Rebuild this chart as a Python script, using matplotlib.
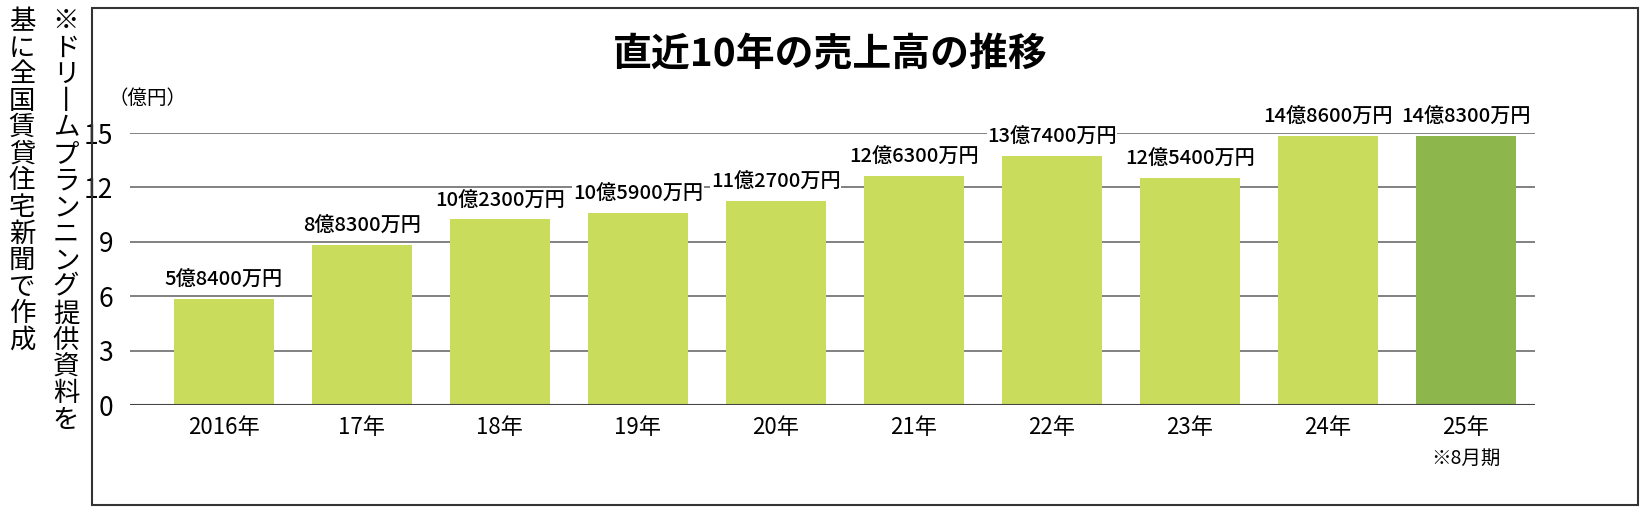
import matplotlib
matplotlib.use("Agg")
import matplotlib.pyplot as plt
from matplotlib.patches import Rectangle

plt.rcParams['font.family'] = ['Noto Sans CJK JP', 'DejaVu Sans']

categories = ["2016年", "17年", "18年", "19年", "20年", "21年", "22年", "23年", "24年", "25年"]
values = [5.84, 8.83, 10.23, 10.59, 11.27, 12.63, 13.74, 12.54, 14.86, 14.83]
labels = ["5億8400万円", "8億8300万円", "10億2300万円", "10億5900万円", "11億2700万円",
          "12億6300万円", "13億7400万円", "12億5400万円", "14億8600万円", "14億8300万円"]
yticks = [0, 3, 6, 9, 12, 15]

W, H = 1646, 513
fig = plt.figure(figsize=(W/100, H/100), dpi=100)
fig.patch.set_facecolor('white')

fig.patches.append(Rectangle((92/W, 8/H), 1546/W, 497/H, transform=fig.transFigure,
                             fill=False, edgecolor='#333333', linewidth=1.5))

ax = fig.add_axes([130/W, 1-405/H, 1405/W, (405-133)/H])
colors = ['#c9dc5c'] * 9 + ['#8db64c']
x = range(len(values))
ax.bar(x, values, width=0.72, color=colors, zorder=3)
ax.set_xlim(-0.68, 9.5)
ax.set_ylim(0, 15)
ax.set_yticks(yticks)
ax.set_yticklabels([str(t) for t in yticks], fontsize=19)
ax.yaxis.grid(True, color='#777777', linewidth=1.3, zorder=0)
ax.tick_params(axis='y', length=0, pad=12)
ax.tick_params(axis='x', length=0, pad=8)
ax.set_xticks(list(x))
ax.set_xticklabels(categories, fontsize=16)
for s in ax.spines.values():
    s.set_visible(False)
ax.axhline(0, color='#444444', linewidth=1.5, zorder=4)

for i, (v, lab) in enumerate(zip(values, labels)):
    ax.text(i, v + 0.5, lab, ha='center', va='bottom', fontsize=14.5, fontweight='medium', zorder=5,
            bbox=dict(facecolor='white', edgecolor='none', pad=0.5))

ax.text(9, -2.35, "※8月期", ha='center', va='top', fontsize=14)
fig.text(108/W, 1-98/H, "（億円）", fontsize=14, ha='left', va='center')
fig.text(830/W, 1-55/H, "直近10年の売上高の推移", fontsize=28, fontweight='bold', ha='center', va='center')

def vert(s):
    return "\n".join('丨' if c == 'ー' else c for c in s)

fig.text(66/W, 1-8/H, vert("※ドリームプランニング提供資料を"), fontsize=19, ha='center', va='top',
         linespacing=0.98)
fig.text(22/W, 1-8/H, vert("基に全国賃貸住宅新聞で作成"), fontsize=19, ha='center', va='top',
         linespacing=0.98)

fig.savefig("out.png", dpi=100)
